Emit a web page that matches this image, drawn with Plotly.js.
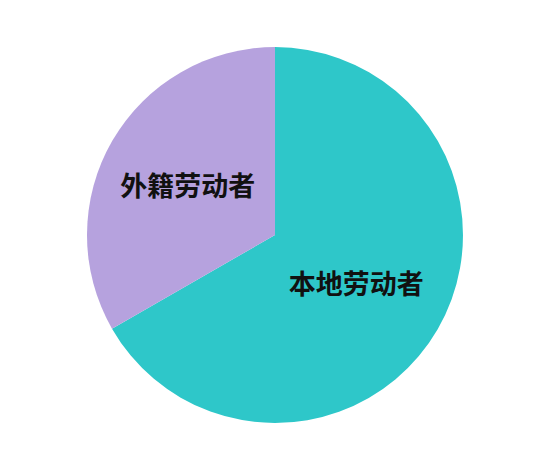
<!DOCTYPE html>
<html>
<head>
<meta charset="utf-8">
<script src="https://cdn.plot.ly/plotly-3.0.1.min.js"></script>
<style>
  html, body { margin: 0; padding: 0; background: #fff; }
  #chart { width: 557px; height: 453px; }
</style>
</head>
<body>
<div id="chart"></div>
<script>
const labels = ['本地劳动者', '外籍劳动者'];
const values = [66.7, 33.3];
const colors = ['#2ec7c9', '#b6a2de'];

const trace = {
    type: 'pie',
    labels: labels,
    values: values,
    sort: false,
    direction: 'clockwise',
    rotation: 0,
    marker: { colors: colors, line: { width: 0 } },
    textinfo: 'label',
    textposition: 'inside',
    insidetextorientation: 'horizontal',
    textfont: { family: '"Noto Sans CJK SC", sans-serif', size: 27, color: '#111', weight: 'bold' },
    hoverinfo: 'label+percent',
    domain: { x: [0.1562, 0.8312], y: [0.0662, 0.8962] }
};

const layout = {
    width: 557,
    height: 453,
    margin: { l: 0, r: 0, t: 0, b: 0 },
    paper_bgcolor: '#ffffff',
    showlegend: false
};

Plotly.newPlot('chart', [trace], layout, { displayModeBar: false, staticPlot: true });
</script>
</body>
</html>
